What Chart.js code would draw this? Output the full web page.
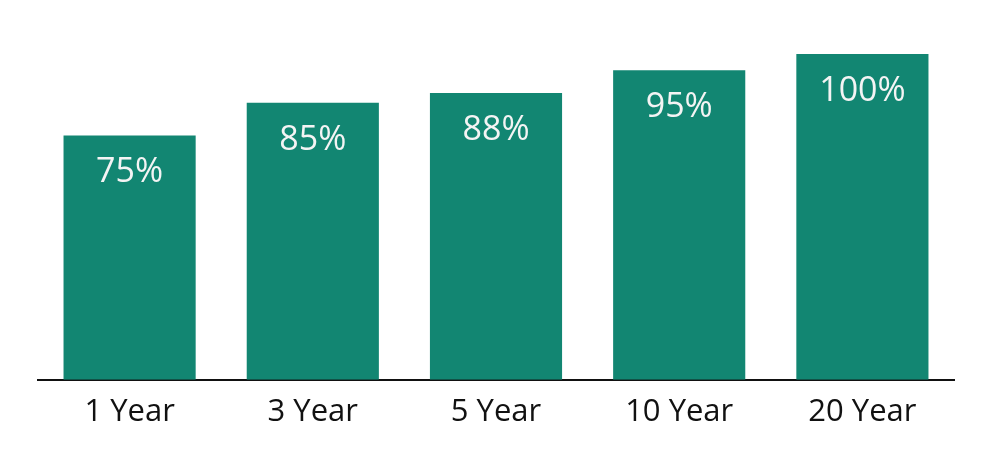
<!DOCTYPE html>
<html>
<head>
<meta charset="utf-8">
<script src="https://cdn.jsdelivr.net/npm/chart.js@4"></script>
<style>
  html, body { margin: 0; padding: 0; background: #fff; }
  #wrap { width: 1000px; height: 464px; }
</style>
</head>
<body>
<div id="wrap"><canvas id="grafico"></canvas></div>
<script>
// dati del grafico
let categories = ['1 Year', '3 Year', '5 Year', '10 Year', '20 Year'];
let values = [75, 85, 88, 95, 100];
let valueLabels = ['75%', '85%', '88%', '95%', '100%'];

// etichette bianche dentro le barre
const barLabels = {
  id: 'barLabels',
  afterDatasetsDraw(chart) {
    let ctx = chart.ctx;
    let meta = chart.getDatasetMeta(0);
    ctx.save();
    ctx.fillStyle = '#f4f4f4';
    ctx.font = '34px "Open Sans"';
    ctx.textAlign = 'center';
    ctx.textBaseline = 'middle';
    meta.data.forEach((bar, i) => {
      ctx.fillText(valueLabels[i], bar.x, bar.y + 37);
    });
    ctx.restore();
  }
};

new Chart(document.getElementById('grafico'), {
  type: 'bar',
  data: {
    labels: categories,
    datasets: [{
      data: values,
      backgroundColor: '#128672',
      borderWidth: 0,
      categoryPercentage: 1,
      barPercentage: 0.7213
    }]
  },
  options: {
    responsive: true,
    maintainAspectRatio: false,
    animation: false,
    layout: { padding: { top: 54, left: 38, right: 46, bottom: 27 } },
    plugins: { legend: { display: false }, tooltip: { enabled: false } },
    scales: {
      x: {
        grid: { display: false },
        border: { display: true, color: '#111', width: 2 },
        ticks: { color: '#111', font: { family: 'Open Sans', size: 31 }, padding: 6 }
      },
      y: { display: false, min: 0, max: 100 }
    }
  },
  plugins: [barLabels]
});
</script>
</body>
</html>
